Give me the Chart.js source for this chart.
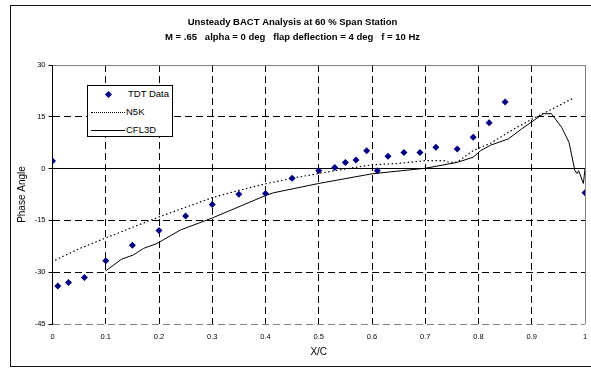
<!DOCTYPE html>
<html>
<head>
<meta charset="utf-8">
<script src="https://cdn.jsdelivr.net/npm/chart.js@4/dist/chart.umd.min.js"></script>
<style>
    body { margin: 0; background: #fff; }
    #wrap { position: relative; width: 591px; height: 371px; overflow: hidden; }
    #frame { position: absolute; left: 10px; top: 5px; width: 620px; height: 362px; border: 1.5px solid #111; box-sizing: border-box; }
    #chart { position: absolute; left: 0; top: 0; }
    #legend { position: absolute; left: 87px; top: 85px; width: 86px; height: 52px; border: 1px solid #000; background: #fff; box-sizing: border-box; font: 9.5px Arial, "Liberation Sans", sans-serif; color: #000; }
    .row { position: absolute; left: 0; width: 84px; height: 12px; }
    .sym { position: absolute; left: 3px; top: 6px; width: 34px; height: 0; }
    .txt { position: absolute; left: 39px; top: 0; line-height: 12px; }
</style>
</head>
<body>
<div id="wrap">
    <div id="frame"></div>
    <canvas id="chart" width="591" height="371"></canvas>
    <div id="legend"></div>
</div>
<script>
// Các nhãn trục
const xTicks = [0, 0.1, 0.2, 0.3, 0.4, 0.5, 0.6, 0.7, 0.8, 0.9, 1];
const yTicks = [-45, -30, -15, 0, 15, 30];

// TDT Data (điểm đo)
const tdtX = [0.0, 0.01, 0.03, 0.06, 0.10, 0.15, 0.20, 0.25, 0.30, 0.35, 0.40, 0.45, 0.50, 0.53,
              0.55, 0.57, 0.59, 0.61, 0.63, 0.66, 0.69, 0.72, 0.76, 0.79, 0.82, 0.85, 1.0];
const tdtY = [2.2, -34.0, -33.0, -31.5, -26.7, -22.2, -17.9, -13.7, -10.4, -7.4, -7.2, -2.8, -0.6, 0.3,
              1.8, 2.5, 5.2, -0.6, 3.6, 4.7, 4.7, 6.2, 5.7, 9.1, 13.3, 19.3, -7.0];

// N5K (đường chấm)
const n5kX = [0.005, 0.05, 0.10, 0.15, 0.20, 0.25, 0.30, 0.35, 0.40, 0.45, 0.50, 0.55, 0.60, 0.65,
              0.70, 0.735, 0.745, 0.76, 0.79, 0.823, 0.867, 0.905, 0.93, 0.979];
const n5kY = [-26.5, -23.2, -20.1, -17.0, -14.0, -11.2, -8.4, -6.3, -4.4, -2.8, -1.4, -0.1, 1.1, 1.5,
              2.3, 2.3, 1.8, 1.9, 5.2, 7.4, 11.5, 14.7, 16.6, 20.5];

// CFL3D (đường liền)
const cflX = [0.10, 0.13, 0.152, 0.171, 0.196, 0.24, 0.30, 0.40, 0.415, 0.50, 0.60, 0.70, 0.76, 0.79,
              0.804, 0.823, 0.856, 0.881, 0.922, 0.937, 0.956, 0.970, 0.981, 0.985, 0.988, 0.997, 1.0];
const cflY = [-29.6, -26.2, -25.0, -23.1, -21.7, -17.8, -14.3, -7.8, -7.0, -4.3, -1.5, 0.1, 1.8, 3.3,
              5.2, 6.8, 8.6, 11.5, 15.9, 15.9, 12.0, 7.6, -0.6, -1.4, -0.6, -4.3, -0.1];

const FONT = 'Arial, "Liberation Sans", sans-serif';

function toPoints(xs, ys) {
    return xs.map((x, i) => ({ x: x, y: ys[i] }));
}

// Tạo legend HTML từ dataset
function buildLegend(chart) {
    const box = document.getElementById('legend');
    chart.data.datasets.forEach((ds, i) => {
        const row = document.createElement('div');
        row.className = 'row';
        row.style.top = (2 + i * 18) + 'px';
        const sym = document.createElement('div');
        sym.className = 'sym';
        if (ds.showLine) {
            sym.style.borderTop = ds.borderDash && ds.borderDash.length ? '1px dotted #000' : '1px solid #000';
        } else {
            sym.style.left = '18px';
            sym.style.top = '4px';
            sym.style.width = '5px';
            sym.style.height = '5px';
            sym.style.background = ds.pointBackgroundColor;
            sym.style.transform = 'rotate(45deg)';
        }
        const txt = document.createElement('div');
        txt.className = 'txt';
        txt.style.left = ds.showLine ? '38px' : '40px';
        txt.textContent = ds.label;
        row.appendChild(sym);
        row.appendChild(txt);
        box.appendChild(row);
    });
}

const ctx = document.getElementById('chart').getContext('2d');
const chart = new Chart(ctx, {
    type: 'scatter',
    data: {
        datasets: [{
            label: 'TDT Data',
            data: toPoints(tdtX, tdtY),
            showLine: false,
            pointStyle: 'rectRot',
            pointRadius: 3.5,
            pointBackgroundColor: '#000080',
            pointBorderColor: '#000080',
            borderWidth: 0,
            order: 0
        }, {
            label: 'N5K',
            data: toPoints(n5kX, n5kY),
            showLine: true,
            borderColor: '#000',
            borderWidth: 1.2,
            borderDash: [1.5, 2.5],
            pointRadius: 0,
            tension: 0,
            order: 1
        }, {
            label: 'CFL3D',
            data: toPoints(cflX, cflY),
            showLine: true,
            borderColor: '#000',
            borderWidth: 1,
            pointRadius: 0,
            tension: 0,
            order: 2
        }]
    },
    options: {
        responsive: false,
        devicePixelRatio: 1,
        animation: false,
        layout: { padding: { left: 0, right: 6, top: 0, bottom: 0 } },
        plugins: {
            legend: { display: false },
            tooltip: { enabled: false },
            title: {
                display: true,
                text: ['Unsteady BACT Analysis at 60 % Span Station',
                       'M = .65   alpha = 0 deg   flap deflection = 4 deg   f = 10 Hz'],
                color: '#000',
                font: { family: FONT, size: 9.5, weight: 'bold', lineHeight: 1.58 },
                padding: { top: 14.5, bottom: 20.5 }
            }
        },
        scales: {
            x: {
                type: 'linear',
                min: 0,
                max: 1,
                afterBuildTicks: s => { s.ticks = xTicks.map(v => ({ value: v })); },
                afterFit: s => { s.height = 47; s.paddingLeft = 0; s.paddingRight = 0; },
                ticks: {
                    color: '#000',
                    font: { family: FONT, size: 7.5 },
                    padding: 8,
                    maxRotation: 0,
                    autoSkip: false,
                    callback: v => String(v)
                },
                grid: {
                    drawTicks: false,
                    lineWidth: 1,
                    color: c => c.tick && c.tick.value === 1 ? '#808080' : '#000'
                },
                border: {
                    display: false,
                    dash: c => (c.tick && c.tick.value > 0 && c.tick.value < 1) ? [7, 4] : []
                },
                title: {
                    display: true,
                    text: 'X/C',
                    color: '#000',
                    font: { family: FONT, size: 10 },
                    padding: { top: 0, bottom: 13 }
                }
            },
            y: {
                type: 'linear',
                min: -45,
                max: 30,
                afterBuildTicks: s => { s.ticks = yTicks.map(v => ({ value: v })); },
                afterFit: s => { s.width = 52.5; s.paddingTop = 0; s.paddingBottom = 0; },
                ticks: {
                    color: '#000',
                    font: { family: FONT, size: 7.5 },
                    padding: 3,
                    callback: v => String(v)
                },
                grid: {
                    drawTicks: true,
                    tickLength: 4,
                    tickColor: '#000',
                    lineWidth: 1,
                    color: c => {
                        if (!c.tick) return '#000';
                        if (c.tick.value === 30 || c.tick.value === -45) return '#808080';
                        return '#000';
                    }
                },
                border: {
                    display: false,
                    dash: c => (c.tick && c.tick.value !== 0 && c.tick.value !== 30) ? [7, 4] : []
                },
                title: {
                    display: true,
                    text: 'Phase Angle',
                    color: '#000',
                    font: { family: FONT, size: 10 },
                    padding: { top: 16.5, bottom: 0 }
                }
            }
        }
    }
});

buildLegend(chart);
</script>
</body>
</html>
